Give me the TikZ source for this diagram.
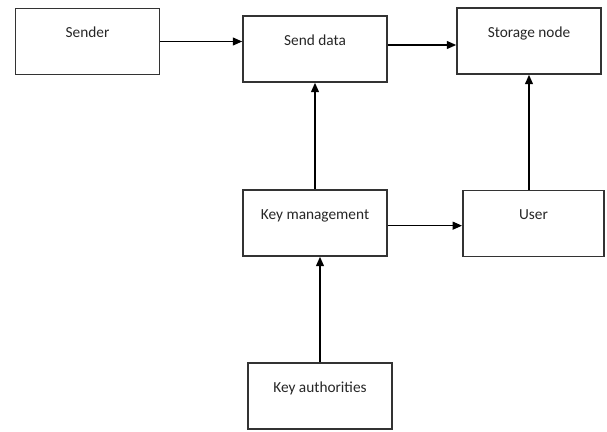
\documentclass[tikz,border=0pt]{standalone}
\usepackage{fontspec}
\setmainfont{Carlito}
\usepackage{tikz}
\usetikzlibrary{arrows.meta}
\tikzset{block/.style={draw=black!80, line width=1.3pt, rectangle, minimum width=108pt, minimum height=49.5pt, inner ysep=0pt, text height=21.5pt, text depth=27.5pt, font=\fontsize{11.5}{13}\selectfont, text=black!85}, arr/.style={line width=0.9pt, -{Triangle[length=7pt, width=6pt]}}}

\begin{document}
\begin{tikzpicture}[x=0.75pt, y=-0.75pt]
    \useasboundingbox (0,0) rectangle (607,432);
    \node [block] (sender) at (87.5,41.5) {Sender};
    \node [block] (senddata) at (315,49) {Send data};
    \node [block] (storage) at (529,41) {Storage node};
    \node [block] (keymgmt) at (315,223) {Key management};
    \node [block, minimum width=106pt] (user) at (533.5,223.5) {User};
    \node [block] (keyauth) at (320,396) {Key authorities};
    \draw [arr] (sender.east) -- (sender.east -| senddata.west);
    \draw [arr] ([yshift=3pt]senddata.east) -- ([yshift=3pt]senddata.east -| storage.west);
    \draw [arr] (keymgmt.north) -- (senddata.south);
    \draw [arr] (storage.south |- user.north) -- (storage.south);
    \draw [arr] ([yshift=-2pt]keymgmt.east) -- ([yshift=-2pt]keymgmt.east -| user.west);
    \draw [arr] (keyauth.north) -- (keyauth.north |- keymgmt.south);
  \end{tikzpicture}
\end{document}
